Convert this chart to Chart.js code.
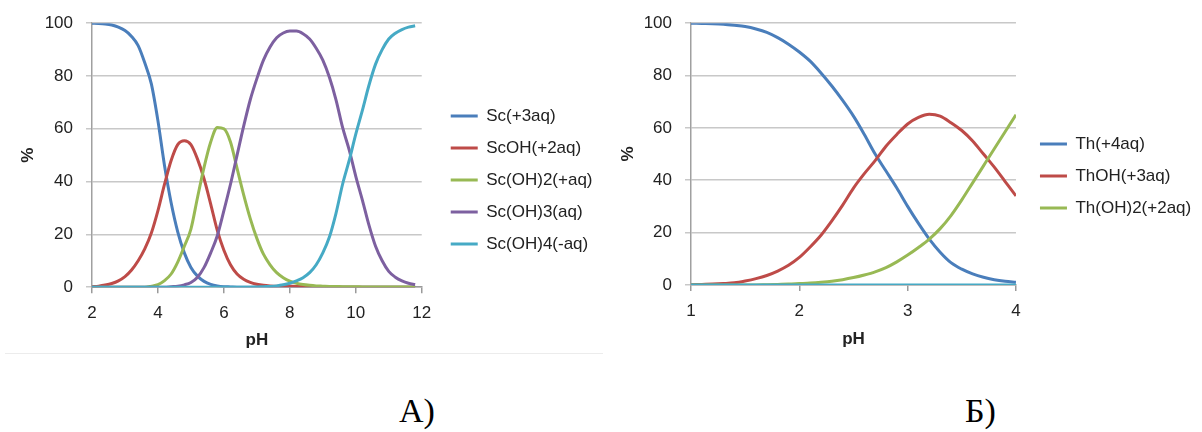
<!DOCTYPE html>
<html lang="ru">
<head>
    <meta charset="UTF-8">
    <title>Распределение форм Sc и Th</title>
    <script src="https://cdn.jsdelivr.net/npm/chart.js"></script>
    <style>
        body {
            margin: 0;
            width: 1202px;
            height: 432px;
            background: #fff;
            position: relative;
            overflow: hidden;
        }
        .box { position: absolute; top: 0; }
        #leftBox { left: 0; }
        #rightBox { left: 600px; }
        .frame-line {
            position: absolute;
            left: 5px;
            top: 353px;
            width: 598px;
            height: 1px;
            background: #ececec;
        }
        .caption {
            position: absolute;
            top: 394px;
            font-family: "Liberation Serif", serif;
            font-size: 34px;
            line-height: 34px;
            color: #000;
        }
    </style>
</head>
<body>
    <div class="box" id="leftBox"><canvas id="scChart" width="600" height="352"></canvas></div>
    <div class="box" id="rightBox"><canvas id="thChart" width="602" height="352"></canvas></div>
    <div class="frame-line"></div>
    <div class="caption" style="left:399px">А)</div>
    <div class="caption" style="left:965px">Б)</div>

    <script>
        // ---- данные: скандий (рис. А) ----
        const phSc = [2, 2.2, 2.4, 2.6, 2.8, 3, 3.2, 3.4, 3.6, 3.8, 4, 4.2, 4.4, 4.6, 4.8, 5, 5.2, 5.4, 5.6, 5.8,
                      6, 6.2, 6.4, 6.6, 6.8, 7, 7.2, 7.4, 7.6, 7.8, 8, 8.2, 8.4, 8.6, 8.8, 9, 9.2, 9.4, 9.6, 9.8,
                      10, 10.2, 10.4, 10.6, 10.8, 11, 11.2, 11.4, 11.6, 11.8];
        const sc3 = [100, 99.9, 99.7, 99.3, 98.5, 97.2, 95, 91.5, 85, 77, 63, 46, 32, 21, 13, 7.5, 4.2, 2.2, 1.1, 0.5,
                     0.2, 0.1, 0, 0, 0, 0, 0, 0, 0, 0, 0, 0, 0, 0, 0, 0, 0, 0, 0, 0,
                     0, 0, 0, 0, 0, 0, 0, 0, 0, 0];
        const scOH = [0.2, 0.4, 0.8, 1.4, 2.4, 4, 6.5, 10, 14.5, 20.5, 29, 39, 48, 54, 55.5, 54, 48.5, 41, 31.5, 21.5,
                      14, 8.5, 5, 3, 1.8, 1.1, 0.7, 0.5, 0.4, 0.4, 0.4, 0.3, 0.3, 0.2, 0.1, 0.1, 0, 0, 0, 0,
                      0, 0, 0, 0, 0, 0, 0, 0, 0, 0];
        const scOH2 = [0, 0, 0, 0, 0, 0, 0, 0, 0, 0.4, 1, 2.5, 5, 9.5, 15.5, 22, 34, 45.5, 55, 60.5,
                       60, 55, 45, 35, 26, 18.5, 12.5, 8.5, 5.5, 3.6, 2.3, 1.5, 1.0, 0.7, 0.5, 0.4, 0.3, 0.3, 0.2, 0.2,
                       0.2, 0.1, 0.1, 0.1, 0.1, 0.1, 0.1, 0.1, 0.1, 0.1];
        const scOH3 = [0, 0, 0, 0, 0, 0, 0, 0, 0, 0, 0, 0, 0.2, 0.4, 0.9, 1.8, 3.8, 7.5, 13, 19.5,
                       29, 39, 50, 61, 71, 79, 86, 91, 94.5, 96.3, 97, 97, 96, 94, 90.5, 86, 79.5, 71, 60.5, 52,
                       42, 33, 23.5, 15.5, 10, 6, 3.8, 2.4, 1.5, 1.0];
        const scOH4 = [0, 0, 0, 0, 0, 0, 0, 0, 0, 0, 0, 0, 0, 0, 0, 0, 0, 0, 0, 0,
                       0, 0, 0, 0, 0, 0.1, 0.2, 0.3, 0.5, 0.9, 1.5, 2.4, 3.6, 5.5, 8.5, 13, 19, 28, 39, 48,
                       58, 67, 76.5, 84.5, 90, 94, 96.2, 97.6, 98.5, 99];
        const scLabels = ["Sc(+3aq)", "ScOH(+2aq)", "Sc(OH)2(+aq)", "Sc(OH)3(aq)", "Sc(OH)4(-aq)"];

        // ---- данные: торий (рис. Б) ----
        const phTh = [1, 1.1, 1.2, 1.3, 1.4, 1.5, 1.6, 1.7, 1.8, 1.9, 2, 2.1, 2.2, 2.3, 2.4, 2.5, 2.6, 2.7, 2.8, 2.9,
                      3, 3.1, 3.2, 3.3, 3.4, 3.5, 3.6, 3.7, 3.8, 3.9, 4];
        const th4 = [100, 99.9, 99.8, 99.6, 99.2, 98.7, 97.8, 96.5, 94.5, 92, 89, 85.5, 81, 76, 70.5, 64.5, 57.5, 50, 43.5, 37,
                     30, 23.5, 17.5, 12.5, 8.5, 6, 4.2, 2.9, 2, 1.4, 1];
        const thOH = [0.1, 0.2, 0.3, 0.5, 0.8, 1.5, 2.4, 3.6, 5.3, 7.5, 10.5, 14.5, 19, 24.5, 30.5, 37, 42.5, 47.5, 53, 57.5,
                      61.5, 64, 65.2, 64.5, 62, 59, 55, 50, 45, 39.5, 34];
        const thOH2 = [0, 0, 0, 0, 0, 0, 0, 0.1, 0.2, 0.3, 0.5, 0.7, 1.0, 1.4, 2.0, 2.8, 3.8, 5.0, 6.6, 8.8,
                       11.4, 14.3, 17.5, 21.5, 26.5, 32.5, 39, 45.5, 52, 58.5, 65];
        const thOH3 = [0, 0, 0, 0, 0, 0, 0, 0, 0, 0, 0, 0, 0, 0, 0, 0, 0, 0, 0, 0,
                       0, 0, 0, 0, 0, 0, 0, 0, 0, 0, 0];
        const thLabels = ["Th(+4aq)", "ThOH(+3aq)", "Th(OH)2(+2aq)", ""];

        const scColors = ["#4a7ebb", "#be4b48", "#98b954", "#7d60a0", "#46aac5"];
        const thColors = ["#4a7ebb", "#be4b48", "#98b954", "#46aac5"];
        const FONT = "'Liberation Sans', Arial, sans-serif";

        // сдвиг легенды, чтобы она стояла как в оригинале
        const legendShift = {
            id: "legendShift",
            afterLayout(chart, args, opts) {
                const lg = chart.legend;
                if (!lg) return;
                lg.left += opts.dx; lg.right += opts.dx;
                lg.top += opts.dy; lg.bottom += opts.dy;
            }
        };

        function makeDatasets(xs, series, labels, colors) {
            return series.map((ys, i) => ({
                label: labels[i],
                data: xs.map((x, k) => ({ x: x, y: ys[k] })),
                borderColor: colors[i],
                backgroundColor: colors[i],
                borderWidth: 3,
                pointRadius: 0,
                cubicInterpolationMode: "monotone",
                fill: false,
                order: series.length - i   // последние серии сверху, как в Excel
            }));
        }

        function makeChart(id, xs, series, labels, colors, xMin, xMax, xStep, o) {
            return new Chart(document.getElementById(id), {
                type: "line",
                data: { datasets: makeDatasets(xs, series, labels, colors) },
                plugins: [legendShift],
                options: {
                    responsive: false,
                    animation: false,
                    layout: { padding: { top: o.top, right: o.right, bottom: o.bottom, left: 0 } },
                    plugins: {
                        tooltip: { enabled: false },
                        legendShift: { dx: o.dx, dy: o.dy },
                        legend: {
                            position: "right",
                            maxWidth: 240,
                            labels: {
                                usePointStyle: true,
                                pointStyle: "line",
                                pointStyleWidth: 27,
                                padding: 15,
                                color: "#222",
                                font: { family: FONT, size: 17 },
                                filter: item => item.text !== "",
                                sort: (a, b) => a.datasetIndex - b.datasetIndex
                            }
                        }
                    },
                    scales: {
                        x: {
                            type: "linear",
                            min: xMin,
                            max: xMax,
                            ticks: { stepSize: xStep, padding: 10, color: "#222", font: { family: FONT, size: 17 } },
                            grid: { drawOnChartArea: false, tickLength: 6, color: "#9a9a9a", lineWidth: 1.5 },
                            border: { color: "#9a9a9a", width: 1.5 },
                            title: {
                                display: true, text: "pH", color: "#222",
                                font: { family: FONT, size: 17, weight: "bold" },
                                padding: { top: o.titlePad, bottom: 0 }
                            }
                        },
                        y: {
                            min: 0,
                            max: 100,
                            afterFit: s => { s.width = o.yWidth; },
                            ticks: { stepSize: 20, padding: 13, color: "#222", font: { family: FONT, size: 17 } },
                            grid: { color: "#c8c8c8", lineWidth: 1.5, tickLength: 6 },
                            border: { color: "#a0a0a0", width: 1.5 },
                            title: {
                                display: true, text: "%", color: "#222",
                                font: { family: FONT, size: 17, weight: "bold" },
                                padding: { top: 18, bottom: 0 }
                            }
                        }
                    }
                }
            });
        }

        makeChart("scChart", phSc, [sc3, scOH, scOH2, scOH3, scOH4], scLabels, scColors, 2, 12, 2,
            { top: 22, right: 11.5, bottom: 1.8, dx: 14, dy: -6, yWidth: 92, titlePad: -3.8 });
        makeChart("thChart", phTh, [th4, thOH, thOH2, thOH3], thLabels, thColors, 1, 4, 1,
            { top: 17.3, right: 9.8, bottom: 2.3, dx: 9, dy: -7.5, yWidth: 91, titlePad: -2 });
    </script>
</body>
</html>
